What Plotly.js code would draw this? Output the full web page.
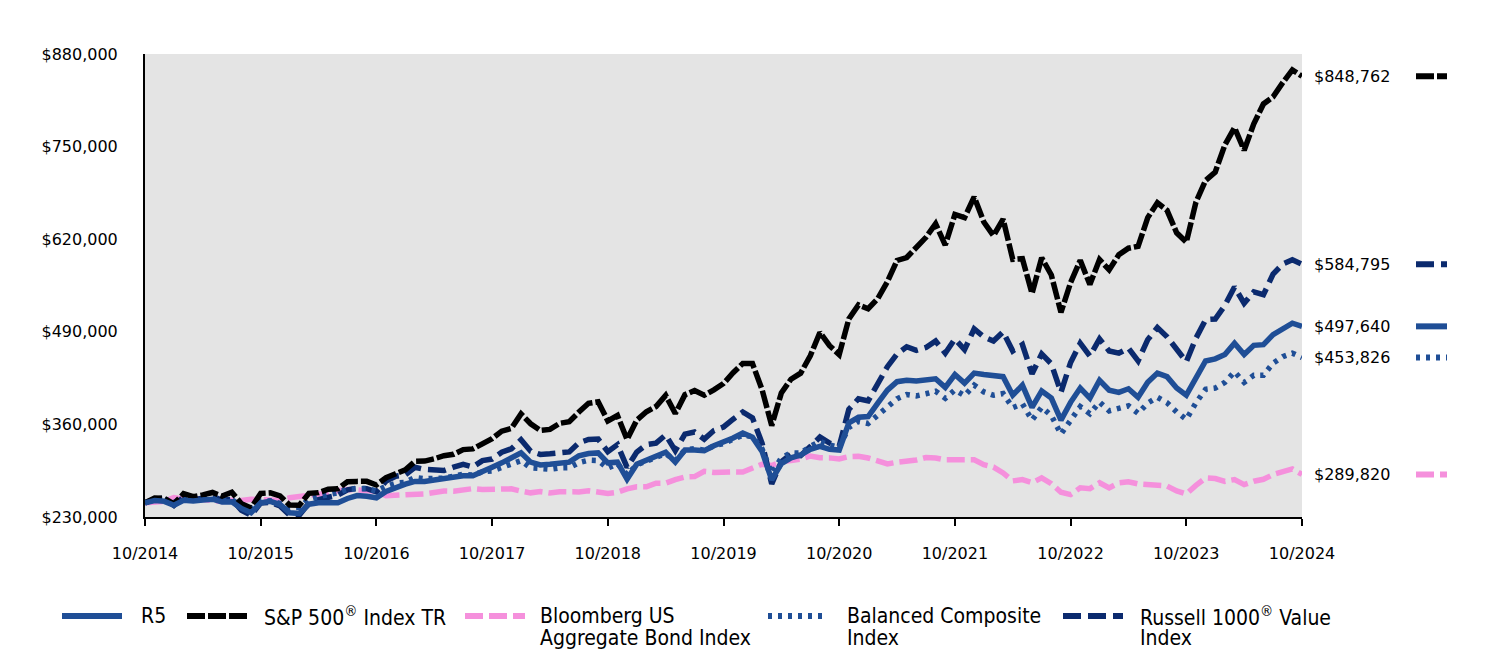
<!DOCTYPE html>
<html>
<head>
<meta charset="utf-8">
<script src="https://cdn.plot.ly/plotly-3.0.1.min.js"></script>
<style>
html,body{margin:0;padding:0;background:#fff;}
#chart{width:1488px;height:660px;}
</style>
</head>
<body>
<div id="chart"></div>
<script>
// ---- data (monthly, 10/2014 .. 10/2024) ----
const tickLabels = ['10/2014','10/2015','10/2016','10/2017','10/2018','10/2019','10/2020','10/2021','10/2022','10/2023','10/2024'];

const r5 = [250000,253000,252000,246500,253500,252500,254000,255000,251000,251500,242000,236000,250000,
252000,247500,236000,235000,248000,250000,250500,250000,256000,260000,259000,257000,
266000,272000,276000,280000,280000,282000,284000,285000,288000,288000,295000,300000,
306000,312000,320000,307000,303000,304000,305000,307000,316000,319000,320000,306000,
307000,283000,304000,310000,314000,321000,307000,324000,324000,323000,330000,335000,
341000,348000,342000,322000,282000,305000,313000,317000,325000,329000,325000,324000,
362000,370000,371000,390000,408000,420000,422000,421000,423000,424000,412000,430000,
418000,432000,430000,428000,427000,401000,415000,384000,407000,397000,366000,391000,
411000,397000,422000,408000,405000,410000,398000,419000,432000,427000,411000,401000,
427000,449000,452000,458000,474000,458000,471000,472000,486000,495000,502000,497640];

const sp500 = [250000,256700,256100,248400,262700,258500,261000,264400,259300,264700,248700,242600,263100,
263900,259700,246800,246500,263200,264200,269000,269700,279600,280000,280100,275000,
285200,290800,296300,308100,308500,311700,316100,318000,324600,325600,332300,340000,
350500,354400,374700,360900,351700,353000,361500,363800,377300,389600,391800,365000,
372500,338800,366000,377700,385100,400700,375200,401700,407500,401000,408500,417400,
432500,445600,445400,408800,358300,404200,423500,431900,456300,489100,470500,458000,
508200,527700,522400,536800,560300,590200,594300,608200,622700,641600,611800,654700,
650200,679300,644200,624900,648100,591600,592700,543800,593900,569700,517200,559100,
590400,556400,591300,576900,598100,607400,610000,650300,671200,660500,629000,615800,
672000,702500,714300,752400,776600,744900,781900,809900,819800,839700,857700,848762];

const aggBond = [250000,251800,252000,257300,254900,256100,255200,254500,251800,253500,253200,254900,255000,
254300,253500,257000,258800,261200,262200,262300,267000,268700,268400,268200,266200,
259900,260300,260800,262500,262400,264400,266500,266200,267400,269800,268500,268700,
268300,269500,266400,263900,265600,263600,265500,265200,265200,266900,265200,263100,
264700,269600,272400,272300,277500,277600,282500,286100,286700,294100,292600,293500,
293300,293100,298700,304100,302300,307700,309200,311100,315700,313200,313000,311600,
314700,315100,312800,308300,304500,306900,307900,310000,313500,312900,310200,310100,
311000,310200,303500,300100,291800,280700,282500,278100,284900,276800,264800,261400,
271000,269800,278100,270900,277800,279500,276500,275500,275300,273500,266600,262400,
274300,284800,284000,280000,282600,275500,280200,282900,289500,293700,297600,289820];

const balanced = [250000,253800,254700,250700,257000,255300,256000,257400,253100,254500,245300,241500,252400,
252700,249200,242900,243500,254900,258400,260800,264100,269300,270400,270000,266500,
273100,277300,278800,285500,283700,284300,284500,287200,290000,288900,293500,294800,
300100,303400,309000,299000,297400,297000,298900,299200,306300,309700,309200,298600,
304800,289500,303200,308900,312500,319000,309100,324000,325900,323700,329900,333100,
339200,344700,342900,325500,291300,313000,320000,319600,329200,336100,331100,327900,
355600,364200,361300,372300,383600,396000,402000,400000,403000,406600,396600,408400,
400300,415000,405600,400900,403200,383500,388900,366100,384100,372400,346400,365900,
385000,375000,391300,379000,381700,386100,375500,389900,398000,390500,377500,367100,
390300,409300,411000,419000,434000,419000,429000,429000,446000,455000,460000,453826];

const russell = [250000,255100,256500,246200,258100,254400,256200,258900,253600,254700,239500,232300,249800,
250700,245500,232800,232600,249400,254500,258500,260700,268200,270300,269700,265300,
280400,287300,289400,299800,296800,296300,295200,300000,304000,300300,309200,311400,
320900,325800,338400,322300,317900,318800,320700,321400,334100,338800,339400,321800,
331600,299700,321200,331500,333600,345200,323200,346400,349300,339300,351400,356400,
367300,377400,369300,333600,276600,307700,318200,316100,328800,342200,333800,329400,
381000,396000,393000,417000,441000,459000,469000,464000,468000,477000,460000,480000,
465000,494000,483000,477000,490000,463000,472000,431000,459000,445000,405000,447000,
474000,456000,480000,463000,460000,467000,449000,479000,496000,483000,464000,448000,
481000,507000,508000,527000,553000,530000,546000,542000,571000,585000,591000,584795];

const seriesNames = ['R5','S&P 500<sup>®</sup> Index TR','Bloomberg US Aggregate Bond Index','Balanced Composite Index','Russell 1000<sup>®</sup> Value Index'];
const legendLines = [['R5'],['S&P 500<sup>®</sup> Index TR'],['Bloomberg US','Aggregate Bond Index'],['Balanced Composite','Index'],['Russell 1000<sup>®</sup> Value','Index']];
const yTicks = [230000,360000,490000,620000,750000,880000];

// ---- styles ----
const W = 1488, H = 660, L = 145, R = 186, T = 54, B = 143;
const PW = W - L - R, PH = H - T - B;
const styles = [
  {color:'#1F4E96', dash:'solid', width:5.5},
  {color:'#000000', dash:'18px,3px', width:5.5},
  {color:'#F590DC', dash:'18px,6px', width:5.5},
  {color:'#1F4E96', dash:'4px,6px', width:5.5},
  {color:'#0B2A6E', dash:'18px,7px', width:5.5}
];
const data = [r5, sp500, aggBond, balanced, russell];
const n = r5.length;
const xIdx = Array.from({length:n}, (_, i) => i);
const tickVals = tickLabels.map((_, k) => k * 12);

const drawOrder = [2, 4, 3, 1, 0];
const traces = drawOrder.map(k => ({
  x: xIdx, y: data[k], type:'scatter', mode:'lines', name: seriesNames[k],
  line: {color: styles[k].color, dash: styles[k].dash, width: styles[k].width},
  hoverinfo: 'skip', showlegend: false
}));

const px2x = p => (p - L) / PW;
const px2y = p => (H - B - p) / PH;
const fontMain = 'DejaVu Sans, sans-serif';
const fontLeg = 'DejaVu Sans Condensed, DejaVu Sans, sans-serif';

const shapes = [];
const annotations = [];

// right-side end labels with line samples
data.forEach((arr, k) => {
  const v = arr[arr.length - 1];
  annotations.push({
    xref:'paper', yref:'y', x: px2x(1312), y: v, xanchor:'left', yanchor:'middle',
    text: '$' + v.toLocaleString('en-US'), showarrow:false,
    font:{family: fontMain, size:16, color:'#000'}
  });
  shapes.push({
    type:'line', xref:'paper', yref:'y', x0: px2x(1416), x1: px2x(1447), y0: v, y1: v,
    line:{color: styles[k].color, width: 6, dash: styles[k].dash}
  });
});

// bottom legend
const legSymX = [62, 187, 465, 768, 1063];
const legTxtX = [139, 262, 538, 845, 1138];
const legY1 = 616, legY2 = 638;
legendLines.forEach((lines, k) => {
  shapes.push({
    type:'line', xref:'paper', yref:'paper', x0: px2x(legSymX[k]), x1: px2x(legSymX[k] + 60),
    y0: px2y(legY1), y1: px2y(legY1),
    line:{color: styles[k].color, width: 6, dash: styles[k].dash}
  });
  lines.forEach((t, j) => {
    annotations.push({
      xref:'paper', yref:'paper', x: px2x(legTxtX[k]), y: px2y(j === 0 ? legY1 : legY2),
      xanchor:'left', yanchor:'middle', text: t, showarrow:false,
      font:{family: fontLeg, size:21, color:'#000'}
    });
  });
});

const layout = {
  width: W, height: H,
  margin: {l: L, r: R, t: T, b: B, pad: 0},
  paper_bgcolor: '#ffffff', plot_bgcolor: '#E4E4E4',
  showlegend: false,
  xaxis: {
    range: [0, n - 1], tickvals: tickVals, ticktext: tickLabels,
    showgrid: false, zeroline: false,
    showline: true, linecolor: '#000', linewidth: 2,
    ticks: 'outside', ticklen: 7, tickwidth: 2, tickcolor: '#000',
    ticklabelstandoff: 14,
    tickfont: {family: fontMain, size: 16, color: '#000'}
  },
  yaxis: {
    range: [230000, 880000], tickvals: yTicks,
    ticktext: yTicks.map(v => '$' + v.toLocaleString('en-US')),
    showgrid: false, zeroline: false,
    showline: true, linecolor: '#000', linewidth: 2,
    ticks: '', ticklabelstandoff: 22,
    tickfont: {family: fontMain, size: 16, color: '#000'}
  },
  shapes: shapes,
  annotations: annotations
};

Plotly.newPlot('chart', traces, layout, {displayModeBar: false, staticPlot: true});
</script>
</body>
</html>
